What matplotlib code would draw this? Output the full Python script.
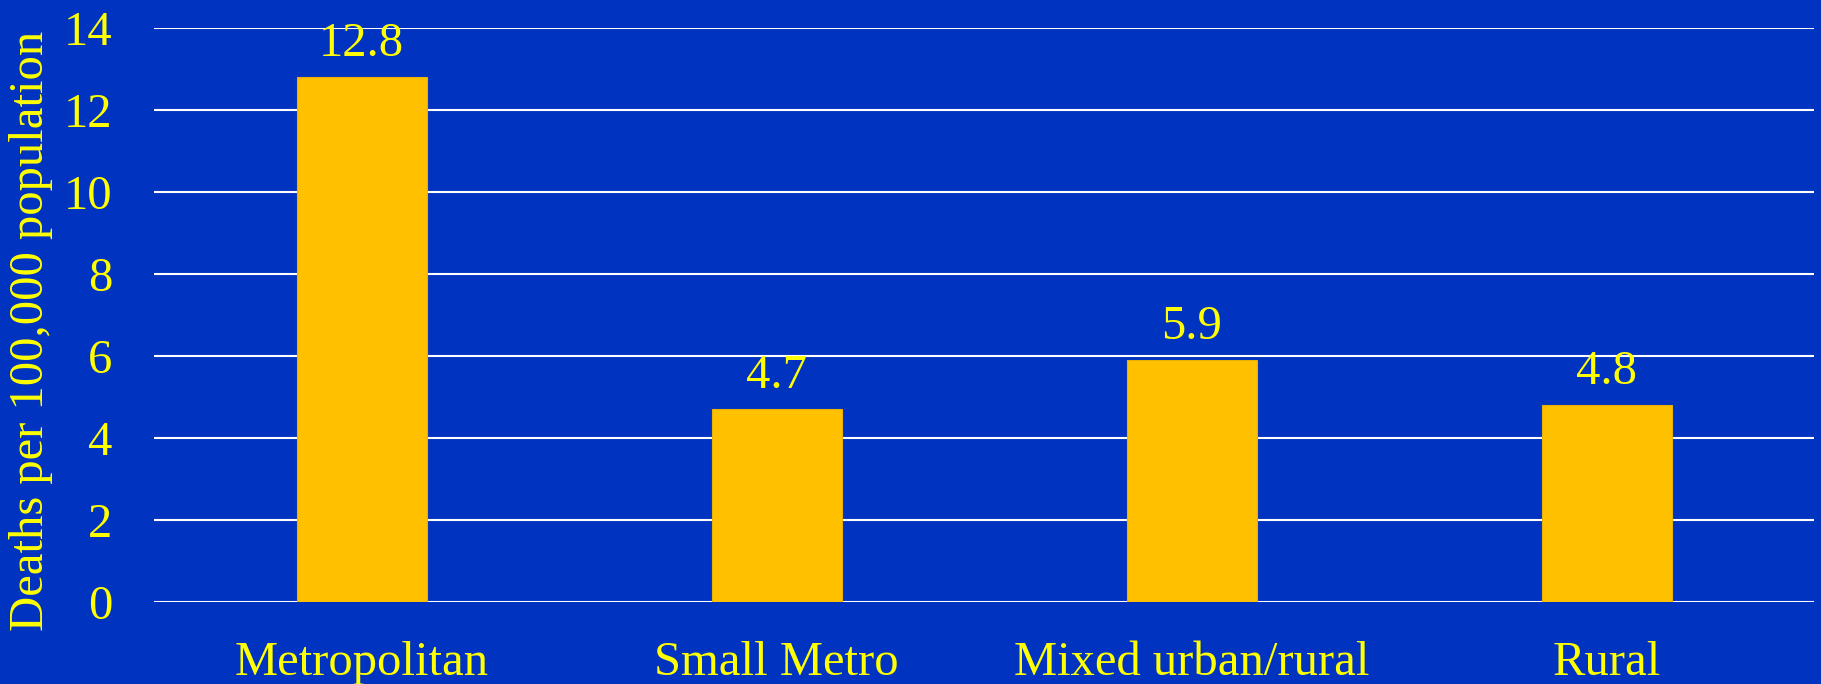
import matplotlib.pyplot as plt

categories = ["Metropolitan", "Small Metro", "Mixed urban/rural", "Rural"]
deaths = [12.8, 4.7, 5.9, 4.8]
yticks = [0, 2, 4, 6, 8, 10, 12, 14]

bg = "#0033c0"
yellow = "#ffff00"

plt.rcParams['font.family'] = ['Liberation Serif', 'DejaVu Serif']

fig = plt.figure(figsize=(18.21, 6.84), dpi=100, facecolor=bg)
ax = fig.add_axes([0.0846, 0.1199, 0.9116, 0.8392])
ax.set_facecolor(bg)

x = range(len(categories))
bars = ax.bar(x, deaths, width=0.313, color="#ffc000", edgecolor="#e8b000", linewidth=0.8, zorder=3)

# value labels above bars
for b, v in zip(bars, deaths):
    ax.annotate(f"{v}", (b.get_x() + b.get_width() / 2, v), xytext=(0, 15),
                textcoords="offset points", ha="center", va="baseline",
                fontsize=35, color=yellow)

ax.set_xlim(-0.5, len(categories) - 0.5)
ax.set_ylim(0, 14)
ax.set_yticks(yticks)
ax.set_xticks(list(x))
ax.set_xticklabels(categories)
ax.tick_params(axis="y", length=0, pad=30, labelsize=35, labelcolor=yellow)
ax.tick_params(axis="x", length=0, pad=28, labelsize=35, labelcolor=yellow)
ax.yaxis.grid(True, color="white", linewidth=1.5, zorder=1)
ax.set_axisbelow(True)
for s in ax.spines.values():
    s.set_visible(False)

fig.text(31 / 1821, 1 - 331 / 684, "Deaths per 100,000 population", rotation=90,
         ha="center", va="center", fontsize=35, color=yellow)

fig.savefig("out.png", dpi=100, facecolor=bg)
